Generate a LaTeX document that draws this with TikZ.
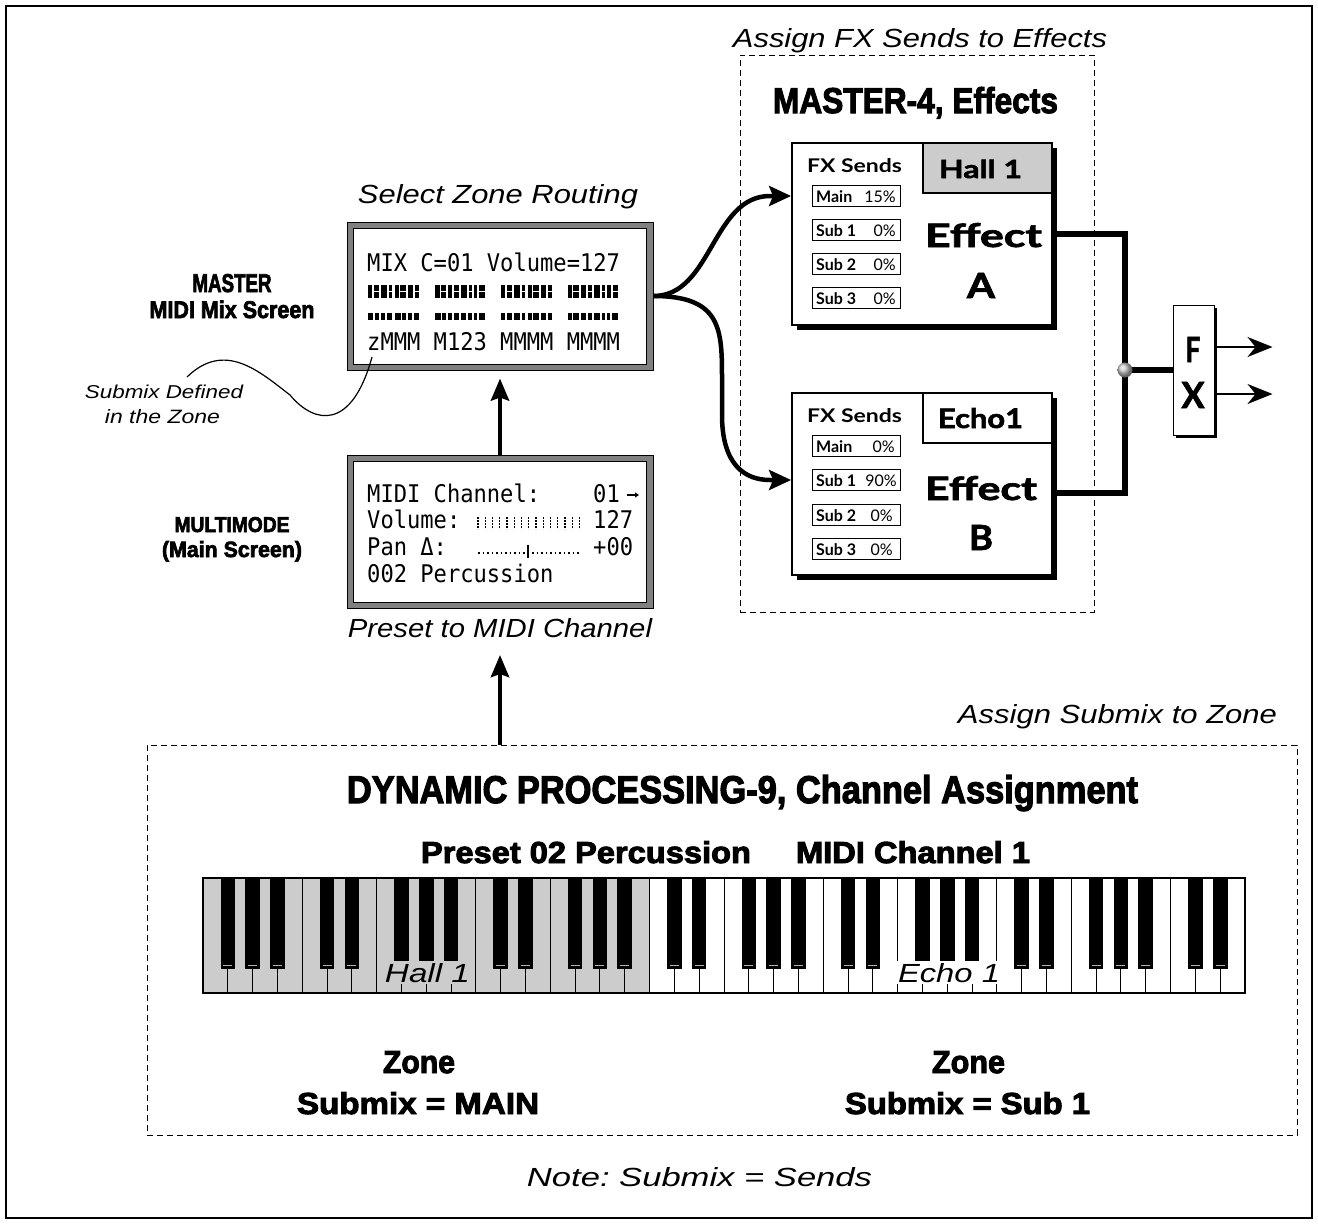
\documentclass[tikz,border=0pt]{standalone}
\usepackage{fontspec}
\usepackage{graphicx}
\usetikzlibrary{arrows.meta,shadows}
\setmainfont{Liberation Sans}
\frenchspacing
\newfontfamily\condf{Liberation Sans}[BoldFeatures={FakeBold=3}]
\newfontfamily\optf{Lato}
\newfontfamily\optk{Lato}[BoldFeatures={FakeBold=2}]
\newfontfamily\lcdf{DejaVu Sans Mono}
\definecolor{kgray}{gray}{0.8}
\definecolor{fgray}{gray}{0.5}
\newcommand{\cnd}[3]{\resizebox{#1pt}{#2pt}{\condf\bfseries #3}}
\newcommand{\itx}[3]{\resizebox{#1pt}{#2pt}{\itshape #3}}
\newcommand{\opb}[3]{\resizebox{#1pt}{#2pt}{\optf\bfseries #3}}
\newcommand{\opk}[3]{\resizebox{#1pt}{#2pt}{\optk\bfseries #3}}
\newcommand{\lcdtxt}[1]{\scalebox{1}[1.1]{\lcdf\fontsize{22.1pt}{26pt}\selectfont #1}}
\newcommand{\sendl}[1]{{\optf\bfseries\fontsize{16pt}{18pt}\selectfont #1}}
\newcommand{\sendv}[1]{{\optf\fontsize{16pt}{18pt}\selectfont #1}}
\begin{document}
\begin{tikzpicture}[x=1pt,y=-1pt,
  t/.style={inner sep=0pt, anchor=base},
  dashbox/.style={draw, line width=1pt, dash pattern=on 6pt off 4pt, inner sep=0pt},
  lcd/.style={draw=black, fill=fgray, line width=1pt, inner sep=0pt, minimum width=306pt},
  effbox/.style={draw, fill=white, line width=1.8pt, inner sep=0pt, minimum width=260pt, minimum height=182pt,
     drop shadow={shadow xshift=5pt, shadow yshift=-5pt, fill=black, opacity=1}},
  sendbox/.style={draw, fill=white, line width=1pt, inner sep=0pt, minimum width=88pt, minimum height=21pt},
  hdr/.style={draw, line width=1.8pt, inner sep=0pt, minimum width=129pt, minimum height=50pt, anchor=north east},
  bigarrow/.style={line width=4.5pt, -{Stealth[length=22pt,width=18pt,inset=3pt]}},
  curvearrow/.style={line width=4.5pt, -{Stealth[length=22pt,width=20pt,inset=4pt]}},
  bus/.style={line width=6.5pt},
  outarrow/.style={line width=2pt, -{Stealth[length=25pt,width=20pt,inset=8pt]}},
]
\useasboundingbox (0,0) rectangle (1318,1224);
\draw[line width=1.2pt] (6,6) rectangle (1312,1218);

% ---------- dashed groups ----------
\node[dashbox, minimum width=354pt, minimum height=557pt] (fxgroup) at (917,333.5) {};
\node[dashbox, minimum width=1150pt, minimum height=390pt] (zonebox) at (722,940) {};

% ---------- titles ----------
\node[t] (fxtitle) at (920,47) {\itx{374}{19}{Assign FX Sends to Effects}};
\node[t] (mastertitle) at (915.5,113) {\cnd{285}{26}{MASTER-4, Effects}};
\node[t] (selzone) at (498,203) {\itx{280}{19}{Select Zone Routing}};
\node[t] (presetlbl) at (500,637) {\itx{304}{19}{Preset to MIDI Channel}};
\node[t] (assignsub) at (1117.5,723) {\itx{319}{19}{Assign Submix to Zone}};
\node[t] (note) at (699.5,1186) {\itx{345}{19}{Note: Submix = Sends}};

% ---------- left labels ----------
\node[t] (ml1) at (232,292) {\cnd{79}{18}{MASTER}};
\node[t] (ml2) at (232,318) {\cnd{165}{17.5}{MIDI Mix Screen}};
\node[t] (mm1) at (232,532) {\cnd{115}{15}{MULTIMODE}};
\node[t] (mm2) at (232,557) {\cnd{140}{16}{(Main Screen)}};
\node[t] (sd1) at (164,398) {\itx{158}{13.5}{Submix Defined}};
\node[t] (sd2) at (162.5,423) {\itx{115}{14}{in the Zone}};

% ---------- LCD top ----------
\node[lcd, minimum height=148pt] (lcdtop) at (500,296) {};
\draw[fill=white, line width=1pt] ([shift={(7pt,-7pt)}]lcdtop.north west) rectangle ([shift={(-7pt,6pt)}]lcdtop.south east);
\node[t, anchor=base west] (l1) at (367,271) {\lcdtxt{MIX C=01 Volume=127}};
\node[t, anchor=base west] (l4) at (367,350) {\lcdtxt{zMMM M123 MMMM MMMM}};
\foreach \k/\s in {0/4,1/6,2/4,3/5,5/5,6/4,7/6,8/3,10/4,11/6,12/4,13/5,15/4,16/5,17/6,18/4}{
  \fill (368+13.3*\k,285) rectangle (368+13.3*\k+\s,298);
  \fill (368+13.3*\k+\s+1.8,285) rectangle (368+13.3*\k+11,298);
  \fill[white] (368+13.3*\k+\s+1.8,290.5) rectangle (368+13.3*\k+11,291.5);
}
\foreach \k/\s in {0/5,1/4,2/6,3/4,5/6,6/4,7/5,8/3,10/4,11/6,12/4,13/5,15/4,16/5,17/6,18/3}{
  \fill (368+13.3*\k,313) rectangle (368+13.3*\k+\s,320);
  \fill (368+13.3*\k+\s+1.8,313) rectangle (368+13.3*\k+11,320);
}

% ---------- LCD bottom ----------
\node[lcd, minimum height=153pt] (lcdbot) at (500,531.5) {};
\draw[fill=white, line width=1pt] ([shift={(7pt,-7pt)}]lcdbot.north west) rectangle ([shift={(-7pt,6pt)}]lcdbot.south east);
\node[t, anchor=base west] (b1) at (367,502) {\lcdtxt{MIDI Channel:}};
\node[t, anchor=base west] (b1v) at (593,502) {\lcdtxt{01}};
\draw[line width=1.2pt, -{Triangle[length=4pt,width=5pt]}] (627,495) -- (639,495);
\node[t, anchor=base west] (b2) at (367,528) {\lcdtxt{Volume:}};
\node[t, anchor=base west] (b2v) at (593,528) {\lcdtxt{127}};
\foreach \k in {0,...,14}{\draw[line width=1.3pt, dash pattern=on 2pt off 1pt] (478+7.25*\k,517) -- (478+7.25*\k,529);}
\node[t, anchor=base west] (b3) at (367,555) {\lcdtxt{Pan Δ:}};
\node[t, anchor=base west] (b3v) at (593,555) {\lcdtxt{+00}};
\draw[line width=1.5pt, dash pattern=on 1.5pt off 3pt] (478,553) -- (579,553);
\draw[line width=1.8pt] (528,545) -- (528,558);
\node[t, anchor=base west] (b4) at (367,582) {\lcdtxt{002 Percussion}};

% ---------- Effect A ----------
\node[effbox] (effA) at (922,234) {};
\node[hdr, fill=kgray] (hallhdr) at (effA.north east) {};
\node[t] (hallA) at (980.5,178) {\opk{83}{18.5}{Hall 1}};
\node[t] (fxsA) at (854.5,172) {\opb{95}{14}{FX Sends}};
\node[t] (effAt) at (983.5,247) {\opk{117}{24}{Effect}};
\node[t] (effAl) at (981,298) {\opk{28}{25}{A}};
\node[sendbox] (mainA) at (856,196) {};
\node[sendbox] (sub1A) at (856,230) {};
\node[sendbox] (sub2A) at (856,264) {};
\node[sendbox] (sub3A) at (856,298) {};
\node[t, anchor=base west] at (816,202) {\sendl{Main}};
\node[t, anchor=base east] at (896,202) {\sendv{15\%}};
\node[t, anchor=base west] at (816,236) {\sendl{Sub 1}};
\node[t, anchor=base east] at (896,236) {\sendv{0\%}};
\node[t, anchor=base west] at (816,270) {\sendl{Sub 2}};
\node[t, anchor=base east] at (896,270) {\sendv{0\%}};
\node[t, anchor=base west] at (816,304) {\sendl{Sub 3}};
\node[t, anchor=base east] at (896,304) {\sendv{0\%}};

% ---------- Effect B ----------
\node[effbox] (effB) at (922,484) {};
\node[hdr, fill=white] (echohdr) at (effB.north east) {};
\node[t] (echoB) at (980.5,428) {\opk{85}{20}{Echo1}};
\node[t] (fxsB) at (854.5,422) {\opb{95}{14}{FX Sends}};
\node[t] (effBt) at (981,500) {\opk{112}{24}{Effect}};
\node[t] (effBl) at (981,550) {\opk{24}{25}{B}};
\node[sendbox] (mainB) at (856,446) {};
\node[sendbox] (sub1B) at (856,480) {};
\node[sendbox] (sub2B) at (856,515) {};
\node[sendbox] (sub3B) at (856,549) {};
\node[t, anchor=base west] at (816,452) {\sendl{Main}};
\node[t, anchor=base east] at (895,452) {\sendv{0\%}};
\node[t, anchor=base west] at (816,486) {\sendl{Sub 1}};
\node[t, anchor=base east] at (897,486) {\sendv{90\%}};
\node[t, anchor=base west] at (816,521) {\sendl{Sub 2}};
\node[t, anchor=base east] at (893,521) {\sendv{0\%}};
\node[t, anchor=base west] at (816,555) {\sendl{Sub 3}};
\node[t, anchor=base east] at (893,555) {\sendv{0\%}};

% ---------- FX ----------
\node[draw, fill=white, line width=1pt, minimum width=41pt, minimum height=130pt, inner sep=0pt,
  drop shadow={shadow xshift=3pt, shadow yshift=-3pt, fill=black, opacity=1}] (fx) at (1193.5,370) {};
\node[t] (fxF) at (1193,362) {\opk{15}{25}{F}};
\node[t] (fxX) at (1193,408) {\opk{23}{26}{X}};
\coordinate (jn) at (1125,370);
\draw[bus] (effA.east) -| (jn);
\draw[bus] ([yshift=-9pt]effB.east) -| (jn);
\draw[bus] (jn) -- (fx.west);
\shade[ball color=gray!45] (jn) circle (7.5);
\draw[outarrow] ([yshift=23pt]fx.east) -- ++(58,0);
\draw[outarrow] ([yshift=-24pt]fx.east) -- ++(58,0);

% ---------- connectors ----------
\draw[bigarrow, shorten >=8pt] (lcdbot.north) -- (lcdtop.south);
\draw[bigarrow] (zonebox.north -| presetlbl) -- ([yshift=-18pt]presetlbl.base);
\draw[curvearrow] (lcdtop.east) .. controls (712,296) and (712,196) .. (770,196) -- (effA.west |- mainA);
\draw[curvearrow] (lcdtop.east) .. controls (722,296) and (722,330) .. (722,380) -- (722,415) .. controls (722,465) and (745,480) .. (770,480) -- (effB.west |- sub1B);
\coordinate (zpt) at (372,357);
\coordinate (sdend) at (187,377);
\draw[line width=1.2pt] (sdend) .. controls (225,340) and (260,372) .. (290,395) .. controls (315,425) and (352,430) .. (zpt);

% ---------- keyboard ----------
\fill[kgray] (203,878) rectangle (649.57,993);
\foreach \i in {1,...,41}{
  \pgfmathsetmacro\xx{203+\i*24.8095}
  \pgfmathtruncatemacro\m{mod(\i,7)}
  \ifnum\m=0 \draw[line width=1pt] (\xx,878) -- (\xx,993);
  \else\ifnum\m=4 \draw[line width=1pt] (\xx,878) -- (\xx,993);
  \else
    \draw[line width=1pt] (\xx,969) -- (\xx,993);
    \fill[black] (\xx-7.3,878) rectangle (\xx+7.3,969);
    \draw[gray!60, line width=1pt] (\xx-4.5,965) -- (\xx+4.5,965);
  \fi\fi
}
\draw[line width=1.2pt] (203,878) rectangle (1245,993);
\node[t, fill=kgray, inner sep=2pt] (hall) at (427.5,982) {\itx{85}{19}{Hall 1}};
\node[t, fill=white, inner sep=2pt] (echo) at (949,982) {\itx{102}{19}{Echo 1}};

% ---------- bottom texts ----------
\node[t] (dyn) at (742.5,803) {\cnd{791}{28}{DYNAMIC PROCESSING-9, Channel Assignment}};
\node[t] (preset02) at (586,863) {\cnd{330}{22}{Preset 02 Percussion}};
\node[t] (midich) at (913,863) {\cnd{234}{22}{MIDI Channel 1}};
\node[t] (zone1) at (419,1073) {\cnd{72}{22}{Zone}};
\node[t] (subm1) at (418,1114) {\cnd{242}{22}{Submix = MAIN}};
\node[t] (zone2) at (968.5,1073) {\cnd{73}{22}{Zone}};
\node[t] (subm2) at (967.5,1114) {\cnd{245}{22}{Submix = Sub 1}};
\end{tikzpicture}
\end{document}
